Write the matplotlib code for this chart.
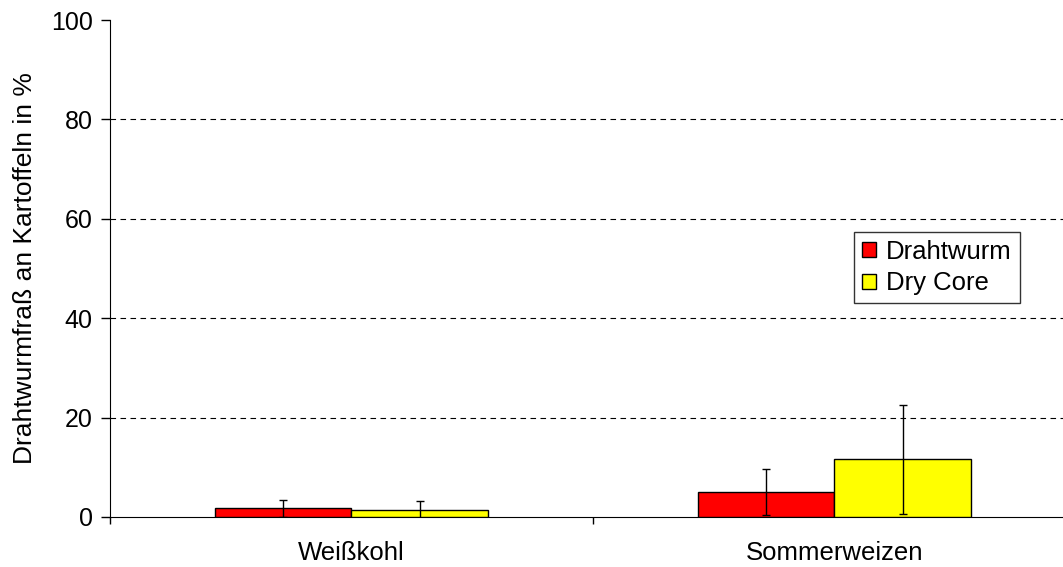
import numpy as np
import matplotlib.pyplot as plt

plt.rcParams['font.family'] = ['Liberation Sans', 'DejaVu Sans']

# Daten
kulturen = ['Weißkohl', 'Sommerweizen']
drahtwurm = [1.75, 5.0]
drahtwurm_err = [1.75, 4.6]
dry_core = [1.5, 11.6]
dry_core_err = [1.8, 11.0]

fig = plt.figure(figsize=(10.63, 5.67), dpi=100)
ax = fig.add_axes([110/1063, 50/567, 966/1063, 497/567])

x = np.arange(len(kulturen))
w = 0.2835
ax.bar(x - w/2, drahtwurm, w, color='#ff0000', edgecolor='black', linewidth=1,
       label='Drahtwurm', zorder=3)
ax.bar(x + w/2, dry_core, w, color='#ffff00', edgecolor='black', linewidth=1,
       label='Dry Core', zorder=3)
ax.errorbar(x - w/2, drahtwurm, yerr=drahtwurm_err, fmt='none', ecolor='black',
            elinewidth=1, capsize=3, capthick=1, zorder=4)
ax.errorbar(x + w/2, dry_core, yerr=dry_core_err, fmt='none', ecolor='black',
            elinewidth=1, capsize=3, capthick=1, zorder=4)

ax.set_xlim(-0.5, 1.5)
ax.set_ylim(0, 100)
ax.set_yticks([0, 20, 40, 60, 80, 100])
ax.tick_params(axis='y', labelsize=18, length=6.5, width=1, direction='out', pad=6)
ax.set_xticks(x)
ax.set_xticklabels(kulturen, fontsize=18.5)
ax.set_xticks([-0.5, 0.5, 1.5], minor=True)
ax.tick_params(axis='x', which='major', length=0, pad=17)
ax.tick_params(axis='x', which='minor', length=5, width=1, direction='out')

for g in [20, 40, 60, 80]:
    ax.axhline(g, color='black', linestyle=(0, (5, 4)), linewidth=0.8, zorder=1)

ax.spines['top'].set_visible(False)
ax.spines['right'].set_visible(False)
ax.set_ylabel('Drahtwurmfraß an Kartoffeln in %', fontsize=19, labelpad=10)

ax.legend(loc='upper left', bbox_to_anchor=(744/966, 285/497),
          frameon=True, fancybox=False, edgecolor='black', fontsize=18.5,
          handlelength=0.55, handleheight=0.55, handletextpad=0.4,
          borderpad=0.3, labelspacing=0.3, borderaxespad=0)

fig.savefig('out.png', dpi=100)
